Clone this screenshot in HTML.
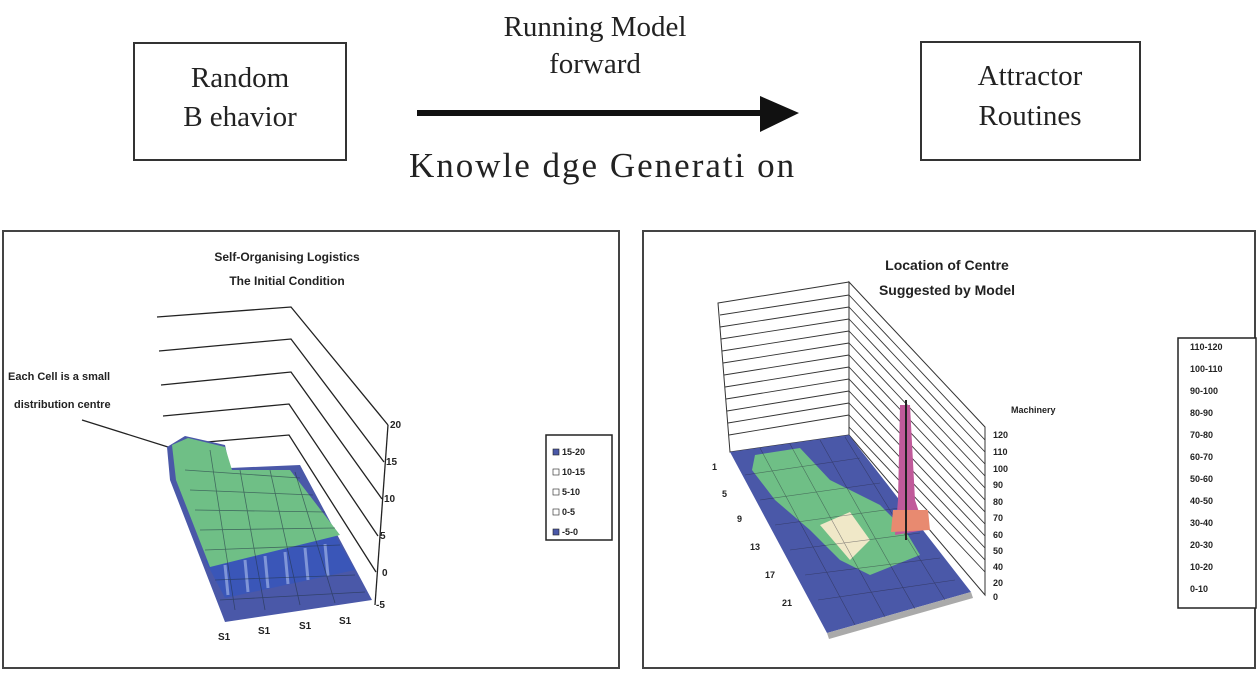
<!DOCTYPE html>
<html><head><meta charset="utf-8"><style>
html,body{margin:0;padding:0;background:#fff;}
svg{display:block;}
.s{font-family:"Liberation Serif",serif;fill:#222;}
.a{font-family:"Liberation Sans",sans-serif;fill:#222;font-weight:bold;}
</style></head><body>
<svg width="1258" height="679" viewBox="0 0 1258 679" xmlns="http://www.w3.org/2000/svg">
<rect x="0" y="0" width="1258" height="679" fill="#fff"/>
<!-- top boxes -->
<rect x="134" y="43" width="212" height="117" fill="none" stroke="#333" stroke-width="2"/>
<text class="s" x="240" y="87" font-size="29" text-anchor="middle">Random</text>
<text class="s" x="240" y="126" font-size="29" text-anchor="middle">B ehavior</text>
<rect x="921" y="42" width="219" height="118" fill="none" stroke="#333" stroke-width="2"/>
<text class="s" x="1030" y="85" font-size="29" text-anchor="middle">Attractor</text>
<text class="s" x="1030" y="125" font-size="29" text-anchor="middle">Routines</text>
<text class="s" x="595" y="36" font-size="29" text-anchor="middle">Running Model</text>
<text class="s" x="595" y="73" font-size="29" text-anchor="middle">forward</text>
<line x1="417" y1="113" x2="765" y2="113" stroke="#111" stroke-width="6"/>
<polygon points="760,96 799,113 760,132" fill="#111"/>
<text class="s" x="409" y="177" font-size="35" letter-spacing="2">Knowle dge Generati on</text>

<!-- left chart -->
<rect x="3" y="231" width="616" height="437" fill="none" stroke="#444" stroke-width="2"/>
<text class="a" x="287" y="261" font-size="12" text-anchor="middle">Self-Organising Logistics</text>
<text class="a" x="287" y="285" font-size="12" text-anchor="middle">The Initial Condition</text>
<g fill="none" stroke="#222" stroke-width="1.3">
<polyline points="157,317 291,307 388,425"/>
<polyline points="159,351 291,339 384,462"/>
<polyline points="161,385 291,372 382,499"/>
<polyline points="163,416 289,404 378,536"/>
<polyline points="195,443 289,435 376,572"/>
<line x1="388" y1="425" x2="375" y2="605"/>
<line x1="82" y1="420" x2="168" y2="447"/>
</g>
<text class="a" x="8" y="380" font-size="11">Each Cell is a small</text>
<text class="a" x="14" y="408" font-size="11">distribution centre</text>
<polygon points="167,447 185,436 225,445 230,468 300,465 372,600 225,622 170,480" fill="#4a58a8"/>
<polygon points="205,560 335,535 355,570 225,598" fill="#3a56b8"/>
<g stroke="#7f95d8" stroke-width="3">
<line x1="225" y1="565" x2="228" y2="595"/><line x1="245" y1="560" x2="248" y2="592"/>
<line x1="265" y1="556" x2="268" y2="588"/><line x1="285" y1="552" x2="288" y2="584"/>
<line x1="305" y1="548" x2="308" y2="580"/><line x1="325" y1="544" x2="328" y2="576"/>
</g>
<polygon points="172,445 188,438 225,447 232,470 290,470 340,535 210,567 176,480" fill="#6fbf86"/>
<g stroke="#234" stroke-width="0.8" opacity="0.6">
<line x1="185" y1="470" x2="300" y2="478"/><line x1="190" y1="490" x2="313" y2="495"/>
<line x1="195" y1="510" x2="325" y2="512"/><line x1="200" y1="530" x2="335" y2="528"/>
<line x1="205" y1="550" x2="340" y2="545"/><line x1="215" y1="580" x2="355" y2="575"/>
<line x1="220" y1="600" x2="365" y2="592"/>
<line x1="210" y1="450" x2="235" y2="610"/><line x1="240" y1="470" x2="265" y2="610"/>
<line x1="270" y1="470" x2="300" y2="605"/><line x1="295" y1="472" x2="335" y2="603"/>
</g>
<g class="a" font-size="10">
<text x="390" y="428">20</text><text x="386" y="465">15</text><text x="384" y="502">10</text>
<text x="380" y="539">5</text><text x="382" y="576">0</text><text x="376" y="608">-5</text>
<text x="218" y="640">S1</text><text x="258" y="634">S1</text><text x="299" y="629">S1</text><text x="339" y="624">S1</text>
</g>
<rect x="546" y="435" width="66" height="105" fill="#fff" stroke="#222" stroke-width="1.5"/>
<g class="a" font-size="9">
<rect x="553" y="449" width="6" height="6" fill="#4a58a8" stroke="#222" stroke-width="0.6"/><text x="562" y="455">15-20</text>
<rect x="553" y="469" width="6" height="6" fill="#fff" stroke="#222" stroke-width="0.6"/><text x="562" y="475">10-15</text>
<rect x="553" y="489" width="6" height="6" fill="#fff" stroke="#222" stroke-width="0.6"/><text x="562" y="495">5-10</text>
<rect x="553" y="509" width="6" height="6" fill="#fff" stroke="#222" stroke-width="0.6"/><text x="562" y="515">0-5</text>
<rect x="553" y="529" width="6" height="6" fill="#4a58a8" stroke="#222" stroke-width="0.6"/><text x="562" y="535">-5-0</text>
</g>

<!-- right chart -->
<rect x="643" y="231" width="612" height="437" fill="none" stroke="#444" stroke-width="2"/>
<text class="a" x="947" y="270" font-size="14" text-anchor="middle">Location of Centre</text>
<text class="a" x="947" y="295" font-size="14" text-anchor="middle">Suggested by Model</text>
<polygon points="718,303 849,282 849,435 730,452" fill="#fff" stroke="#333" stroke-width="1"/>
<polygon points="849,282 985,427 985,595 849,435" fill="#fff" stroke="#333" stroke-width="1"/>
<g stroke="#333" stroke-width="0.9">
<line x1="720" y1="315" x2="849" y2="295"/><line x1="720" y1="327" x2="849" y2="307"/>
<line x1="721" y1="339" x2="849" y2="319"/><line x1="722" y1="351" x2="849" y2="331"/>
<line x1="723" y1="363" x2="849" y2="343"/><line x1="724" y1="375" x2="849" y2="355"/>
<line x1="725" y1="387" x2="849" y2="367"/><line x1="726" y1="399" x2="849" y2="379"/>
<line x1="727" y1="411" x2="849" y2="391"/><line x1="728" y1="423" x2="849" y2="403"/>
<line x1="729" y1="435" x2="849" y2="415"/>
<line x1="849" y1="295" x2="985" y2="440"/><line x1="849" y1="307" x2="985" y2="452"/>
<line x1="849" y1="319" x2="985" y2="464"/><line x1="849" y1="331" x2="985" y2="476"/>
<line x1="849" y1="343" x2="985" y2="488"/><line x1="849" y1="355" x2="985" y2="500"/>
<line x1="849" y1="367" x2="985" y2="512"/><line x1="849" y1="379" x2="985" y2="524"/>
<line x1="849" y1="391" x2="985" y2="536"/><line x1="849" y1="403" x2="985" y2="548"/>
<line x1="849" y1="415" x2="985" y2="560"/><line x1="849" y1="427" x2="985" y2="572"/>
</g>
<polygon points="730,452 849,435 971,592 827,633" fill="#4a58a8"/>
<polygon points="827,633 971,592 973,598 829,639" fill="#aaa"/>
<polygon points="755,455 800,448 830,480 880,505 905,530 920,555 870,575 840,560 810,530 775,500 752,470" fill="#6fbf86"/>
<polygon points="820,525 850,512 870,540 850,560" fill="#f0e8c8"/>
<g stroke="#223" stroke-width="0.6" opacity="0.5">
<line x1="745" y1="475" x2="860" y2="458"/><line x1="760" y1="500" x2="880" y2="483"/>
<line x1="775" y1="525" x2="900" y2="508"/><line x1="790" y1="550" x2="920" y2="533"/>
<line x1="805" y1="575" x2="940" y2="558"/><line x1="818" y1="600" x2="955" y2="580"/>
<line x1="760" y1="448" x2="855" y2="625"/><line x1="790" y1="444" x2="885" y2="617"/>
<line x1="820" y1="440" x2="915" y2="609"/><line x1="845" y1="437" x2="945" y2="600"/>
</g>
<polygon points="900,405 910,405 915,500 925,530 895,535 898,500" fill="#c05a9a"/>
<polygon points="893,510 928,510 930,530 891,532" fill="#e88a70"/>
<line x1="906" y1="400" x2="906" y2="540" stroke="#222" stroke-width="2"/>
<text class="a" x="1011" y="413" font-size="9">Machinery</text>
<g class="a" font-size="9">
<text x="993" y="438">120</text><text x="993" y="455">110</text><text x="993" y="472">100</text>
<text x="993" y="488">90</text><text x="993" y="505">80</text><text x="993" y="521">70</text>
<text x="993" y="538">60</text><text x="993" y="554">50</text><text x="993" y="570">40</text>
<text x="993" y="586">20</text><text x="993" y="600">0</text>
<text x="712" y="470">1</text><text x="722" y="497">5</text><text x="737" y="522">9</text>
<text x="750" y="550">13</text><text x="765" y="578">17</text><text x="782" y="606">21</text>
</g>
<rect x="1178" y="338" width="78" height="270" fill="#fff" stroke="#222" stroke-width="1.5"/>
<g class="a" font-size="9">
<text x="1190" y="350">110-120</text><text x="1190" y="372">100-110</text>
<text x="1190" y="394">90-100</text><text x="1190" y="416">80-90</text>
<text x="1190" y="438">70-80</text><text x="1190" y="460">60-70</text>
<text x="1190" y="482">50-60</text><text x="1190" y="504">40-50</text>
<text x="1190" y="526">30-40</text><text x="1190" y="548">20-30</text>
<text x="1190" y="570">10-20</text><text x="1190" y="592">0-10</text>
</g>
</svg>
</body></html>
